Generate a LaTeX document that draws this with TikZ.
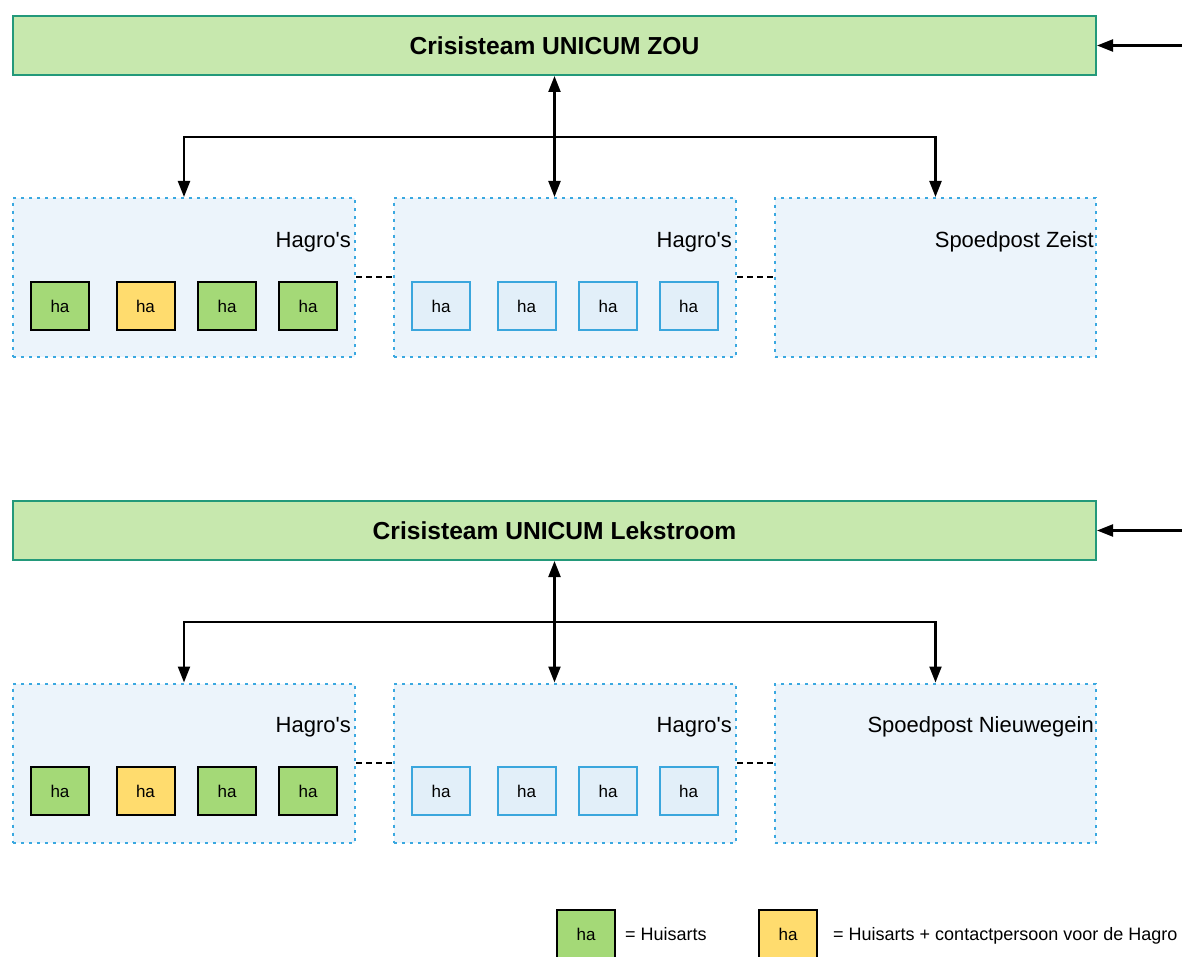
\documentclass[tikz,border=0pt]{standalone}
\usepackage{fontspec}
\setmainfont{Liberation Sans}
\usetikzlibrary{arrows.meta}
\definecolor{teamfill}{HTML}{C7E8AE}
\definecolor{teamdraw}{HTML}{23997A}
\definecolor{grpfill}{HTML}{ECF4FB}
\definecolor{grpdraw}{HTML}{3AA8E0}
\definecolor{hagreen}{HTML}{A4D977}
\definecolor{hayellow}{HTML}{FFDC6E}
\definecolor{hablue}{HTML}{E2EFF9}
\definecolor{habluedraw}{HTML}{3AA6DD}
\begin{document}
\begin{tikzpicture}[x=1pt,y=-1pt,
  team/.style={draw=teamdraw, fill=teamfill, line width=2pt, minimum width=1083pt, minimum height=59pt, inner sep=0pt, font=\fontsize{24.6}{28}\selectfont\bfseries},
  grp/.style={draw=grpdraw, fill=grpfill, line width=2pt, dash pattern=on 3pt off 5pt, minimum height=159pt, inner sep=0pt},
  grplabel/.style={anchor=east, inner sep=0pt, font=\fontsize{22}{26}\selectfont},
  habox/.style={line width=2pt, minimum width=58pt, minimum height=48pt, inner sep=0pt, font=\fontsize{17}{20}\selectfont},
  hagr/.style={habox, draw=black, fill=hagreen},
  hayl/.style={habox, draw=black, fill=hayellow},
  habl/.style={habox, draw=habluedraw, fill=hablue},
  conn/.style={line width=2.2pt, -{Triangle[length=16pt,width=12pt]}},
  bconn/.style={line width=2.2pt, {Triangle[length=16pt,width=12pt]}-{Triangle[length=16pt,width=12pt]}},
  link/.style={line width=2pt, dash pattern=on 6pt off 4pt},
  legtext/.style={anchor=base west, inner sep=0pt, font=\fontsize{18}{22}\selectfont}
]
\useasboundingbox (0,0) rectangle (1182,957);

% ---------- top block ----------
\node[team] (zou) at (554.5,45.5) {Crisisteam UNICUM ZOU};
\node[grp, minimum width=342pt] (a1) at (184,277.5) {};
\node[grp, minimum width=342pt] (a2) at (565,277.5) {};
\node[grp, minimum width=321pt] (a3) at (935.5,277.5) {};
\node[grplabel] (a1l) at (351,242) {Hagro\textquotesingle s};
\node[grplabel] (a2l) at (732,242) {Hagro\textquotesingle s};
\node[grplabel] (a3l) at (1094,242) {Spoedpost Zeist};
\node[hagr] (a1h1) at (60,306) {ha};
\node[hayl] (a1h2) at (145.5,306) {ha};
\node[hagr] (a1h3) at (227,306) {ha};
\node[hagr] (a1h4) at (308,306) {ha};
\node[habl] (a2h1) at (441,306) {ha};
\node[habl] (a2h2) at (526.5,306) {ha};
\node[habl] (a2h3) at (608,306) {ha};
\node[habl] (a2h4) at (688.5,306) {ha};
\coordinate (zin) at (1182,45.5);
\coordinate (zj) at (554.5,137);
\draw[conn] (zin) -- (zou.east);
\draw[bconn] (zou.south) -- (zou.south |- a2.north);
\draw[conn] (zj) -| (a1.north);
\draw[conn] (zj) -| (a3.north);
\draw[link] (a1.east) -- (a2.west);
\draw[link] (a2.east) -- (a3.west);

% ---------- bottom block ----------
\node[team] (lek) at (554.5,530.5) {Crisisteam UNICUM Lekstroom};
\node[grp, minimum width=342pt] (b1) at (184,763) {};
\node[grp, minimum width=342pt] (b2) at (565,763) {};
\node[grp, minimum width=321pt] (b3) at (935.5,763) {};
\node[grplabel] (b1l) at (351,727) {Hagro\textquotesingle s};
\node[grplabel] (b2l) at (732,727) {Hagro\textquotesingle s};
\node[grplabel] (b3l) at (1094,727) {Spoedpost Nieuwegein};
\node[hagr] (b1h1) at (60,791) {ha};
\node[hayl] (b1h2) at (145.5,791) {ha};
\node[hagr] (b1h3) at (227,791) {ha};
\node[hagr] (b1h4) at (308,791) {ha};
\node[habl] (b2h1) at (441,791) {ha};
\node[habl] (b2h2) at (526.5,791) {ha};
\node[habl] (b2h3) at (608,791) {ha};
\node[habl] (b2h4) at (688.5,791) {ha};
\coordinate (lin) at (1182,530.5);
\coordinate (lj) at (554.5,622);
\draw[conn] (lin) -- (lek.east);
\draw[bconn] (lek.south) -- (lek.south |- b2.north);
\draw[conn] (lj) -| (b1.north);
\draw[conn] (lj) -| (b3.north);
\draw[link] (b1.east) -- (b2.west);
\draw[link] (b2.east) -- (b3.west);

% ---------- legend ----------
\node[hagr] (lg1) at (586,934) {ha};
\node[legtext] (lg1t) at (625,940) {= Huisarts};
\node[hayl] (lg2) at (788,934) {ha};
\node[legtext] (lg2t) at (833,940) {= Huisarts + contactpersoon voor de Hagro};
\end{tikzpicture}
\end{document}
